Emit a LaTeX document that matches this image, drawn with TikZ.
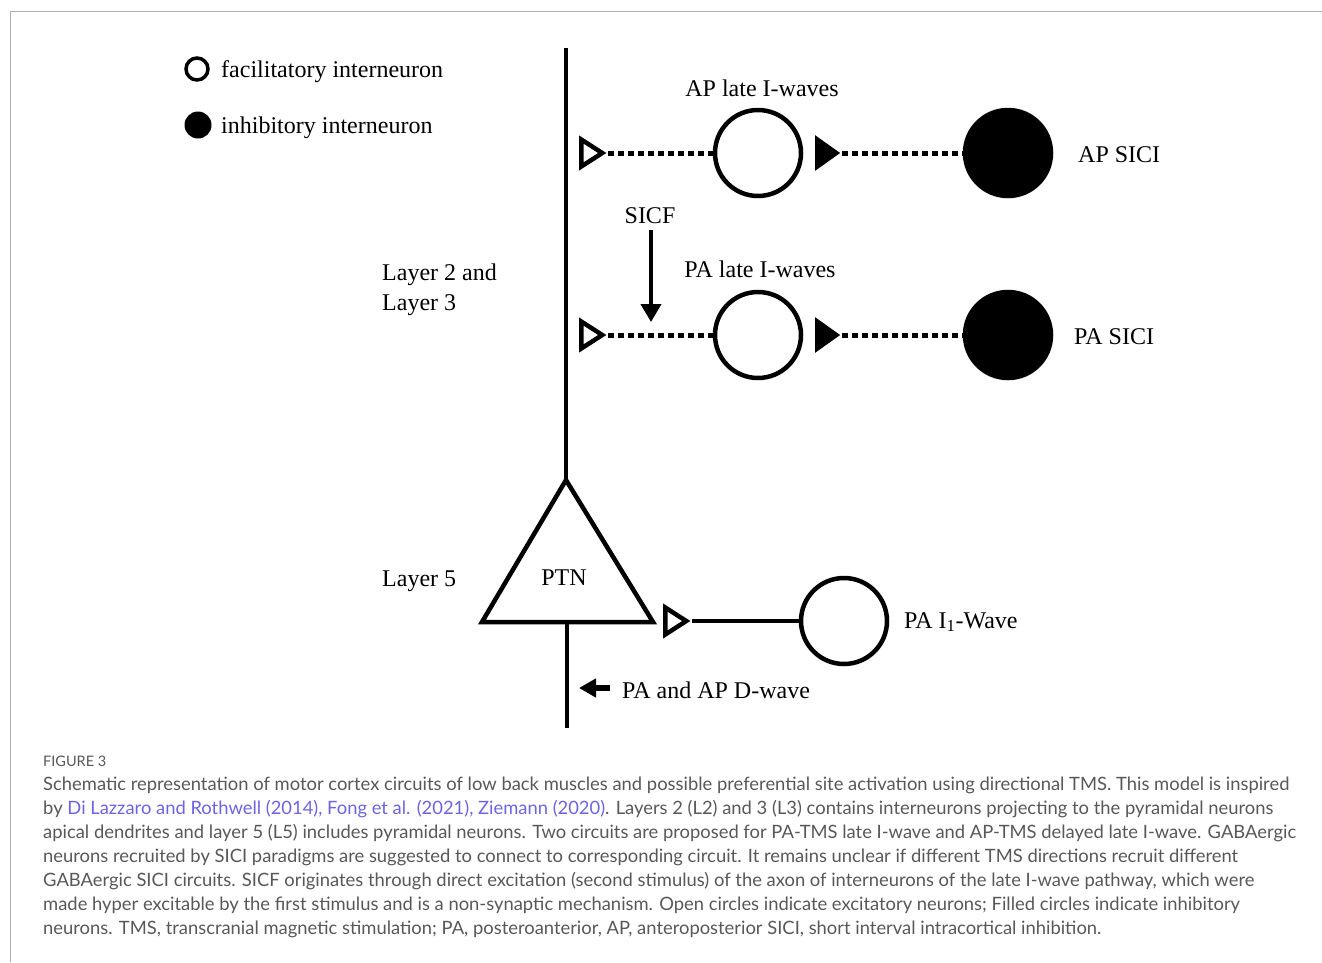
\documentclass[tikz,border=0pt]{standalone}
\usepackage{fontspec}
\setmainfont{Liberation Serif}
\newfontfamily\capfont{Lato}
\usetikzlibrary{shapes.geometric,arrows.meta}
\definecolor{capgray}{RGB}{88,88,88}
\definecolor{linkblue}{RGB}{108,100,228}
\definecolor{framegray}{RGB}{175,175,175}

\tikzset{
  cell/.style={circle,draw,line width=4.5pt,minimum size=86pt,inner sep=0pt},
  inhib/.style={cell,fill=black},
  syn/.style={isosceles triangle,isosceles triangle stretches,draw,line width=4.5pt,
    minimum height=21pt,minimum width=27pt,inner sep=0pt,anchor=lower side},
  synfill/.style={syn,fill=black,minimum height=19pt},
  axon/.style={line width=4.5pt},
  dots/.style={line width=5pt,dash pattern=on 6pt off 4pt},
  lbl/.style={font=\fontsize{24}{30}\selectfont,inner sep=0pt},
}

\begin{document}
\begin{tikzpicture}[x=1pt,y=-1pt]
\useasboundingbox (0,0) rectangle (1322,962);
\draw[framegray,line width=1pt] (10,962) -- (10,11) -- (1322,11);

% legend
\node[circle,draw,line width=3.5pt,minimum size=22pt,inner sep=0pt] (legfac) at (197,69) {};
\node[lbl,anchor=west] (legfactxt) at (221,72) {facilitatory interneuron};
\node[circle,fill=black,minimum size=27pt,inner sep=0pt] (leginh) at (198,125) {};
\node[lbl,anchor=west] (leginhtxt) at (221,128) {inhibitory interneuron};

% pyramidal neuron
\coordinate (dendtop) at (566,48);
\coordinate (apex) at (566,480);
\coordinate (baseL) at (482,622);
\coordinate (baseR) at (653,622);
\coordinate (axtop) at (567,622);
\coordinate (axbot) at (567,728);
\draw[axon,line join=miter] (apex) -- (baseL) -- (baseR) -- cycle;
\draw[axon] (dendtop) -- (apex);
\draw[axon] (axtop) -- (axbot);
\node[lbl] (ptn) at (564,578) {PTN};

% AP circuit
\node[syn] (apsyn) at (579,153) {};
\node[cell] (aplate) at (758,153) {};
\node[synfill] (apinh) at (815,153) {};
\node[inhib] (apsici) at (1008,153) {};
\draw[dots] (apsyn.apex) -- (aplate.west);
\draw[dots] (apinh.apex) -- (apsici.west);
\node[lbl] (aplbl) at (762,88) {AP late I-waves};
\node[lbl,anchor=west] (apsicilbl) at (1078,155) {AP SICI};

% PA circuit
\node[syn] (pasyn) at (579,335) {};
\node[cell] (palate) at (758,335) {};
\node[synfill] (painh) at (815,335) {};
\node[inhib] (pasici) at (1008,335) {};
\draw[dots] (pasyn.apex) -- (palate.west);
\draw[dots] (painh.apex) -- (pasici.west);
\node[lbl] (palbl) at (760,269) {PA late I-waves};
\node[lbl,anchor=west] (pasicilbl) at (1074,337) {PA SICI};

% SICF
\node[lbl] (sicf) at (650,216) {SICF};
\coordinate (sicfend) at (651,322);
\draw[line width=4pt,-{Triangle[length=18pt,width=20pt]}] (sicf.south) ++(1,6) -- (sicfend);

% layers
\node[lbl,anchor=west,align=left] (layer23) at (382,290) {Layer 2 and\\Layer 3};
\node[lbl,anchor=west] (layer5) at (382,581) {Layer 5};

% I1 wave
\node[syn] (i1syn) at (663,621) {};
\node[cell] (i1cell) at (844,621) {};
\draw[axon] (i1syn.apex) -- (i1cell.west);
\node[lbl,anchor=west] (i1lbl) at (904,622) {PA I\textsubscript{1}-Wave};

% D-wave
\node[lbl,anchor=west] (dwave) at (622,690) {PA and AP D-wave};
\coordinate (dwtip) at (579,688);
\draw[line width=6pt,-{Triangle[length=17pt,width=18pt]}] (dwave.west) ++(-12,-2) -- (dwtip);

% caption
\node[anchor=west,inner sep=0pt,text=capgray,font=\capfont\fontsize{14.5}{16}\selectfont] (figlbl) at (43,761) {FIGURE 3};
\node[anchor=north west,inner sep=0pt,align=left,text=capgray,
  font=\capfont\fontsize{18.38}{24}\selectfont] (caption) at (43,777) {%
Schematic representation of motor cortex circuits of low back muscles and possible preferential site activation using directional TMS. This model is inspired\\
by \textcolor{linkblue}{Di Lazzaro and Rothwell (2014), Fong et al. (2021), Ziemann (2020)}. Layers 2 (L2) and 3 (L3) contains interneurons projecting to the pyramidal neurons\\
apical dendrites and layer 5 (L5) includes pyramidal neurons. Two circuits are proposed for PA-TMS late I-wave and AP-TMS delayed late I-wave. GABAergic\\
neurons recruited by SICI paradigms are suggested to connect to corresponding circuit. It remains unclear if different TMS directions recruit different\\
GABAergic SICI circuits. SICF originates through direct excitation (second stimulus) of the axon of interneurons of the late I-wave pathway, which were\\
made hyper excitable by the first stimulus and is a non-synaptic mechanism. Open circles indicate excitatory neurons; Filled circles indicate inhibitory\\
neurons. TMS, transcranial magnetic stimulation; PA, posteroanterior, AP, anteroposterior SICI, short interval intracortical inhibition.};
\end{tikzpicture}
\end{document}
